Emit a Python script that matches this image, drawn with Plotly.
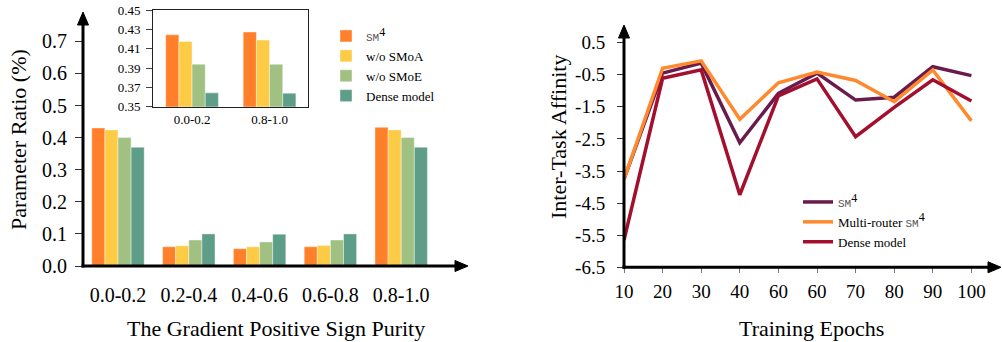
import plotly.graph_objects as go

W, H = 1002, 342

# ---------------- data ----------------
purity_bins = ["0.0-0.2", "0.2-0.4", "0.4-0.6", "0.6-0.8", "0.8-1.0"]
bar_names = ["SM4", "w/o SMoA", "w/o SMoE", "Dense model"]
sm4_ratio = [0.430, 0.060, 0.054, 0.060, 0.432]
wo_smoa_ratio = [0.424, 0.063, 0.060, 0.064, 0.424]
wo_smoe_ratio = [0.400, 0.081, 0.075, 0.081, 0.400]
dense_ratio = [0.370, 0.100, 0.099, 0.100, 0.370]

inset_bins = ["0.0-0.2", "0.8-1.0"]
inset_sm4 = [0.4244, 0.4272]
inset_wo_smoa = [0.4175, 0.4189]
inset_wo_smoe = [0.3940, 0.3938]
inset_dense = [0.3643, 0.3640]

left_yticks = [0.0, 0.1, 0.2, 0.3, 0.4, 0.5, 0.6, 0.7]
inset_yticks = [0.35, 0.37, 0.39, 0.41, 0.43, 0.45]

epoch_labels = ["10", "20", "30", "40", "60", "60", "70", "80", "90", "100"]
affinity_sm4 = [-3.75, -0.45, -0.14, -2.62, -1.08, -0.45, -1.29, -1.20, -0.25, -0.53]
affinity_multi = [-3.76, -0.30, -0.07, -1.89, -0.75, -0.42, -0.68, -1.34, -0.35, -1.94]
affinity_dense = [-5.65, -0.61, -0.35, -4.24, -1.16, -0.63, -2.43, -1.52, -0.66, -1.32]
right_yticks = [0.5, -0.5, -1.5, -2.5, -3.5, -4.5, -5.5, -6.5]

bar_colors = ["#FF7F2A", "#FECB47", "#A0C182", "#5E9E88"]
line_colors = ["#6A1B4D", "#FF8A2E", "#A3102F"]

FONT = "Liberation Serif"
SM4_HTML = ("<span style='font-family:Liberation Mono;font-size:11px;fill:#555'>SM</span>"
            "<sup><span style='font-size:12px'>4</span></sup>")


def px(x):
    return x / W


def py(y):
    return 1 - y / H


fig = go.Figure()

main_vals = [sm4_ratio, wo_smoa_ratio, wo_smoe_ratio, dense_ratio]
inset_vals = [inset_sm4, inset_wo_smoa, inset_wo_smoe, inset_dense]
labels = [SM4_HTML, "w/o SMoA", "w/o SMoE", "Dense model"]

bw_main = 0.185
bw_inset = 0.17
for i in range(4):
    fig.add_trace(go.Bar(
        x=list(range(len(purity_bins))), y=main_vals[i], name=labels[i],
        width=bw_main, offset=-2 * bw_main + i * bw_main,
        marker=dict(color=bar_colors[i], line=dict(color="rgba(255,255,255,0.5)", width=0.8)),
        xaxis="x", yaxis="y", legend="legend",
    ))
for i in range(4):
    fig.add_trace(go.Bar(
        x=list(range(len(inset_bins))), y=inset_vals[i], name=labels[i],
        width=bw_inset, offset=-2 * bw_inset + i * bw_inset,
        marker=dict(color=bar_colors[i], line=dict(color="rgba(255,255,255,0.5)", width=0.8)),
        xaxis="x3", yaxis="y3", showlegend=False,
    ))

line_names = [SM4_HTML, "Multi-router " + SM4_HTML, "Dense model"]
line_vals = [affinity_sm4, affinity_multi, affinity_dense]
for i in range(3):
    fig.add_trace(go.Scatter(
        x=list(range(len(epoch_labels))), y=line_vals[i], name=line_names[i],
        mode="lines", line=dict(color=line_colors[i], width=3.5),
        xaxis="x2", yaxis="y2", legend="legend2",
    ))

# geometry
L_x0, L_x1 = 83, 455
L_c0, L_step = 118, 70.8
L_y0, L_ytop = 266, 30
L_scale = 321.0

R_x0, R_x1 = 624, 1000
R_step = 38.6
R_y0, R_ytop = 267.3, 25
R_scale = 32.1

I_x0, I_x1 = 153.3, 308.3
I_y0, I_y1 = 106.7, 10

tickfont = dict(family=FONT, size=20, color="black")

fig.update_layout(
    width=W, height=H, margin=dict(l=0, r=0, t=0, b=0, autoexpand=False),
    paper_bgcolor="white", plot_bgcolor="white",
    barmode="overlay",
    font=dict(family=FONT, color="black"),
    xaxis=dict(
        domain=[px(L_x0), px(L_x1)],
        range=[(L_x0 - L_c0) / L_step, (L_x1 - L_c0) / L_step],
        tickvals=list(range(len(purity_bins))), ticktext=purity_bins,
        ticks="", showline=False, showgrid=False, zeroline=False,
        tickfont=tickfont, ticklabelstandoff=15, anchor="y",
    ),
    yaxis=dict(
        domain=[py(L_y0), py(L_ytop)],
        range=[0, (L_y0 - L_ytop) / L_scale],
        tickvals=left_yticks, ticktext=[f"{v:.1f}" for v in left_yticks],
        ticks="outside", ticklen=7, tickwidth=1.2, tickcolor="#333",
        showline=False, showgrid=False, zeroline=False,
        tickfont=tickfont, ticklabelstandoff=4, anchor="x",
    ),
    xaxis2=dict(
        domain=[px(R_x0), px(R_x1)],
        range=[0, (R_x1 - R_x0) / R_step],
        tickvals=list(range(len(epoch_labels))), ticktext=epoch_labels,
        ticks="outside", ticklen=5, tickwidth=1.2, tickcolor="#777",
        showline=False, showgrid=False, zeroline=False,
        tickfont=dict(family=FONT, size=19, color="black"), ticklabelstandoff=2, anchor="y2",
    ),
    yaxis2=dict(
        domain=[py(R_y0), py(R_ytop)],
        range=[-6.5, -6.5 + (R_y0 - R_ytop) / R_scale],
        tickvals=right_yticks, ticktext=[f"{v:.1f}" for v in right_yticks],
        ticks="outside", ticklen=6, tickwidth=1.2, tickcolor="#333",
        showline=False, showgrid=False, zeroline=False,
        tickfont=dict(family=FONT, size=19, color="black"), ticklabelstandoff=8, anchor="x2",
    ),
    xaxis3=dict(
        domain=[px(I_x0), px(I_x1)], range=[-0.5, 1.5],
        tickvals=list(range(len(inset_bins))), ticktext=inset_bins,
        ticks="", showline=True, mirror=True, linecolor="#222", linewidth=1.3,
        showgrid=False, zeroline=False,
        tickfont=dict(family=FONT, size=13, color="black"), ticklabelstandoff=1, anchor="y3",
    ),
    yaxis3=dict(
        domain=[py(I_y0), py(I_y1)], range=[0.35, 0.45],
        tickvals=inset_yticks, ticktext=[f"{v:.2f}" for v in inset_yticks],
        ticks="outside", ticklen=6, tickwidth=1, tickcolor="#444",
        showline=True, mirror=True, linecolor="#222", linewidth=1.3,
        showgrid=False, zeroline=False,
        tickfont=dict(family=FONT, size=13, color="black"), ticklabelstandoff=3, anchor="x3",
    ),
    legend=dict(
        x=px(326), y=py(21), xanchor="left", yanchor="top",
        font=dict(family=FONT, size=13, color="black"),
        bgcolor="rgba(0,0,0,0)", tracegroupgap=0, itemwidth=30,
    ),
    legend2=dict(
        x=px(798), y=py(187), xanchor="left", yanchor="top",
        font=dict(family=FONT, size=13, color="black"),
        bgcolor="rgba(0,0,0,0)", tracegroupgap=0, itemwidth=30,
    ),
)

# axis lines with arrowheads (decoration, paper coordinates)
shapes = []
HEAD_L, HEAD_W = 13, 5.5


def axis_arrow(x0, y0, x1, y1):
    out = []
    if x0 == x1:  # vertical, head at top
        out.append(dict(type="line", xref="paper", yref="paper", x0=px(x0), y0=py(y0 + 1.5),
                        x1=px(x1), y1=py(y1 + HEAD_L - 1), line=dict(color="black", width=3)))
        path = (f"M {px(x1 - HEAD_W)},{py(y1 + HEAD_L)} L {px(x1)},{py(y1)} "
                f"L {px(x1 + HEAD_W)},{py(y1 + HEAD_L)} Z")
    else:  # horizontal, head at right
        out.append(dict(type="line", xref="paper", yref="paper", x0=px(x0 - 1.5), y0=py(y0),
                        x1=px(x1 - HEAD_L + 1), y1=py(y1), line=dict(color="black", width=3)))
        path = (f"M {px(x1 - HEAD_L)},{py(y1 - HEAD_W)} L {px(x1)},{py(y1)} "
                f"L {px(x1 - HEAD_L)},{py(y1 + HEAD_W)} Z")
    out.append(dict(type="path", xref="paper", yref="paper", path=path,
                    fillcolor="black", line=dict(color="black", width=1)))
    return out


shapes += axis_arrow(L_x0, L_y0, L_x0, 12)
shapes += axis_arrow(L_x0, L_y0, 468, L_y0)
shapes += axis_arrow(R_x0, R_y0, R_x0, 25)
shapes += axis_arrow(R_x0, R_y0, 1001, R_y0)

annotations = [
    dict(text="The Gradient Positive Sign Purity", x=px(276), y=py(328), xref="paper", yref="paper",
         showarrow=False, font=dict(family=FONT, size=22, color="black"), xanchor="center", yanchor="middle"),
    dict(text="Parameter Ratio (%)", x=px(18), y=py(140), xref="paper", yref="paper", textangle=-90,
         showarrow=False, font=dict(family=FONT, size=22, color="black"), xanchor="center", yanchor="middle"),
    dict(text="Training Epochs", x=px(811), y=py(328), xref="paper", yref="paper",
         showarrow=False, font=dict(family=FONT, size=22, color="black"), xanchor="center", yanchor="middle"),
    dict(text="Inter-Task Affinity", x=px(558), y=py(137), xref="paper", yref="paper", textangle=-90,
         showarrow=False, font=dict(family=FONT, size=22, color="black"), xanchor="center", yanchor="middle"),
]
fig.update_layout(annotations=annotations, shapes=shapes)

fig.write_html("out.html")
